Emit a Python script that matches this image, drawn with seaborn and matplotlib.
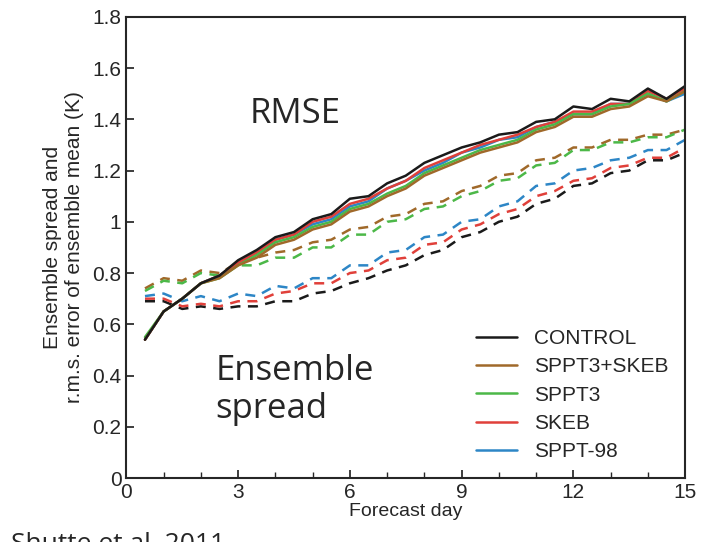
import numpy as np
import pandas as pd
import matplotlib
matplotlib.use("Agg")
import matplotlib.pyplot as plt
import seaborn as sns

days = [0.5 * i for i in range(1, 31)]
series_names = ["CONTROL", "SPPT3+SKEB", "SPPT3", "SKEB", "SPPT-98"]
colors = ["#1a1a1a", "#a0692a", "#4cb848", "#e0403a", "#2d86c6"]

rmse = {
    "CONTROL":    [0.54, 0.65, 0.70, 0.76, 0.79, 0.85, 0.89, 0.94, 0.96, 1.01, 1.03, 1.09, 1.10, 1.15, 1.18,
                   1.23, 1.26, 1.29, 1.31, 1.34, 1.35, 1.39, 1.40, 1.45, 1.44, 1.48, 1.47, 1.52, 1.48, 1.53],
    "SPPT3+SKEB": [0.54, 0.65, 0.70, 0.76, 0.78, 0.83, 0.86, 0.91, 0.93, 0.97, 0.99, 1.04, 1.06, 1.10, 1.13,
                   1.18, 1.21, 1.24, 1.27, 1.29, 1.31, 1.35, 1.37, 1.41, 1.41, 1.44, 1.45, 1.49, 1.47, 1.51],
    "SPPT3":      [0.55, 0.65, 0.70, 0.76, 0.78, 0.83, 0.87, 0.92, 0.94, 0.98, 1.00, 1.05, 1.07, 1.11, 1.14,
                   1.19, 1.22, 1.25, 1.28, 1.30, 1.32, 1.36, 1.38, 1.42, 1.42, 1.45, 1.46, 1.50, 1.47, 1.51],
    "SKEB":       [0.54, 0.65, 0.70, 0.76, 0.79, 0.84, 0.88, 0.93, 0.95, 1.00, 1.02, 1.07, 1.09, 1.13, 1.16,
                   1.21, 1.24, 1.27, 1.30, 1.32, 1.34, 1.37, 1.39, 1.43, 1.43, 1.46, 1.46, 1.51, 1.48, 1.52],
    "SPPT-98":    [0.54, 0.65, 0.70, 0.76, 0.79, 0.84, 0.88, 0.93, 0.95, 0.99, 1.01, 1.06, 1.08, 1.13, 1.16,
                   1.20, 1.23, 1.27, 1.29, 1.32, 1.33, 1.37, 1.39, 1.42, 1.42, 1.46, 1.46, 1.50, 1.47, 1.50],
}

spread = {
    "CONTROL":    [0.69, 0.69, 0.66, 0.67, 0.66, 0.67, 0.67, 0.69, 0.69, 0.72, 0.73, 0.76, 0.78, 0.81, 0.83,
                   0.87, 0.89, 0.94, 0.96, 1.00, 1.02, 1.07, 1.09, 1.14, 1.15, 1.19, 1.20, 1.24, 1.24, 1.27],
    "SPPT3+SKEB": [0.74, 0.78, 0.77, 0.81, 0.80, 0.84, 0.86, 0.88, 0.89, 0.92, 0.93, 0.97, 0.98, 1.02, 1.03,
                   1.07, 1.08, 1.12, 1.14, 1.18, 1.19, 1.24, 1.25, 1.29, 1.29, 1.32, 1.32, 1.34, 1.34, 1.36],
    "SPPT3":      [0.73, 0.77, 0.76, 0.80, 0.79, 0.83, 0.83, 0.86, 0.86, 0.90, 0.90, 0.95, 0.95, 1.00, 1.01,
                   1.05, 1.06, 1.10, 1.12, 1.16, 1.17, 1.22, 1.23, 1.28, 1.28, 1.31, 1.31, 1.33, 1.33, 1.36],
    "SKEB":       [0.70, 0.70, 0.67, 0.68, 0.67, 0.69, 0.69, 0.72, 0.73, 0.76, 0.76, 0.80, 0.81, 0.85, 0.86,
                   0.91, 0.92, 0.97, 0.99, 1.03, 1.05, 1.10, 1.12, 1.16, 1.17, 1.21, 1.22, 1.25, 1.25, 1.29],
    "SPPT-98":    [0.71, 0.72, 0.69, 0.71, 0.69, 0.72, 0.71, 0.75, 0.74, 0.78, 0.78, 0.83, 0.83, 0.88, 0.89,
                   0.94, 0.95, 1.00, 1.01, 1.06, 1.08, 1.14, 1.15, 1.20, 1.21, 1.24, 1.25, 1.28, 1.28, 1.32],
}

rows = []
for name in series_names:
    for d, r, s in zip(days, rmse[name], spread[name]):
        rows.append({"day": d, "series": name, "kind": "rmse", "value": r})
        rows.append({"day": d, "series": name, "kind": "spread", "value": s})
df = pd.DataFrame(rows)

sns.set_theme(style="ticks")
plt.rcParams["font.family"] = ["Liberation Sans", "DejaVu Sans"]

fig = plt.figure(figsize=(7.02, 5.42), dpi=100)
ax = fig.add_axes([0.18, 0.118, 0.796, 0.851])
palette = dict(zip(series_names, colors))

sns.lineplot(data=df[df.kind == "spread"], x="day", y="value", hue="series",
             hue_order=series_names, palette=palette, ax=ax, linewidth=1.8,
             dashes=False, legend=False, linestyle=(0, (4, 3)))
sns.lineplot(data=df[df.kind == "rmse"], x="day", y="value", hue="series",
             hue_order=series_names[::-1], palette=palette, ax=ax, linewidth=1.8)

ax.set_xlim(0, 15)
ax.set_ylim(0, 1.8)
ax.set_xticks(range(0, 16, 3))
ax.set_xticks(range(0, 16), minor=True)
ax.set_yticks(np.arange(0, 1.81, 0.2))
ax.set_yticklabels(["0", "0.2", "0.4", "0.6", "0.8", "1", "1.2", "1.4", "1.6", "1.8"])
ax.tick_params(labelsize=15, direction="in", length=6)
ax.tick_params(which="minor", direction="in", length=4)
for sp in ax.spines.values():
    sp.set_linewidth(1.5)
    sp.set_visible(True)
ax.set_xlabel("Forecast day", fontsize=14, labelpad=1)
ax.set_ylabel("Ensemble spread and\nr.m.s. error of ensemble mean (K)", fontsize=15, labelpad=6)

handles, labels = ax.get_legend_handles_labels()
order = [labels.index(n) for n in series_names]
ax.legend([handles[i] for i in order], series_names, loc="lower right",
          frameon=False, fontsize=15, handlelength=2.0, borderaxespad=0.4,
          labelspacing=0.45)

ax.text(0.22, 0.77, "RMSE", transform=ax.transAxes, fontsize=25,
        family=["Open Sans", "DejaVu Sans"])
ax.text(0.16, 0.13, "Ensemble\nspread", transform=ax.transAxes, fontsize=25,
        linespacing=1.15, family=["Open Sans", "DejaVu Sans"])
fig.text(0.015, -0.005, "Shutte et al. 2011", fontsize=19, va="center",
         family=["Open Sans", "DejaVu Sans"])

fig.savefig("out.png", dpi=100)
